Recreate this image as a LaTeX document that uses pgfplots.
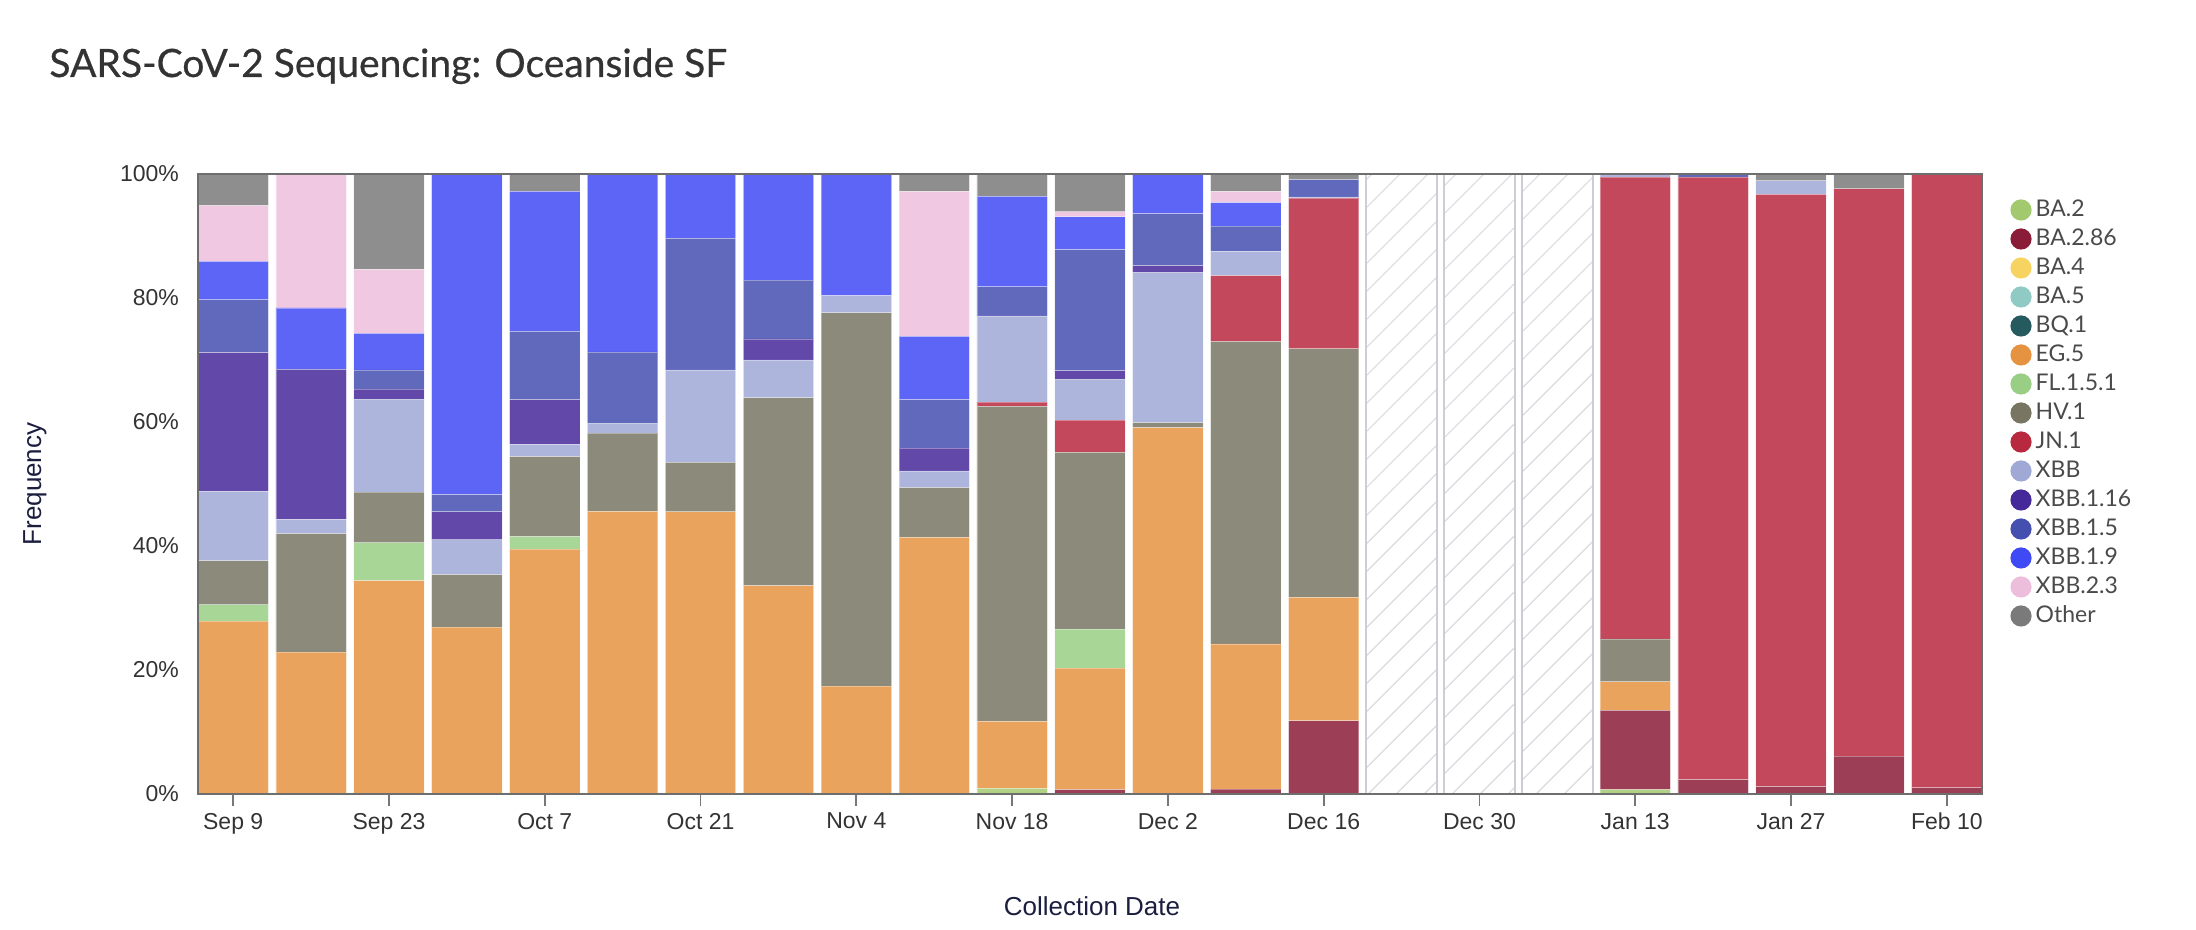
\documentclass[border=0pt]{standalone}
\usepackage{fontspec}
\setmainfont{Liberation Sans}
\newfontfamily\latofont{Lato}
\newfontfamily\titlefont{Lato}[FakeBold=0.6]
\usepackage{pgfplots}
\pgfplotsset{compat=1.18}
\usepackage{pgfplotstable}
\usetikzlibrary{patterns.meta}

\definecolor{cBA2}{HTML}{A3C96E}
\definecolor{cBA286}{HTML}{8B1C38}
\definecolor{cBA4}{HTML}{F7D462}
\definecolor{cBA5}{HTML}{8FCBC4}
\definecolor{cBQ1}{HTML}{255A5E}
\definecolor{cEG5}{HTML}{E59340}
\definecolor{cFL}{HTML}{98CF84}
\definecolor{cHV1}{HTML}{787563}
\definecolor{cJN1}{HTML}{B8283E}
\definecolor{cXBB}{HTML}{A0A8D6}
\definecolor{cX116}{HTML}{45289A}
\definecolor{cX15}{HTML}{454FB0}
\definecolor{cX19}{HTML}{3F4AF5}
\definecolor{cX23}{HTML}{EDBEDC}
\definecolor{cOther}{HTML}{7A7A7A}
\definecolor{cFrame}{HTML}{6E6E6E}
\definecolor{cTick}{HTML}{777777}
\definecolor{cText}{HTML}{333333}
\definecolor{cLeg}{HTML}{4A4A4A}
\definecolor{cNavy}{HTML}{1B1E3F}
\definecolor{cHatch}{HTML}{D6D6DC}
\definecolor{cHatchBorder}{HTML}{CDCDD5}

\pgfplotstableread{
idx BA2 BA286 EG5 FL HV1 JN1 XBB X116 X15 X19 X23 Other ND
0  0   0    27.9 2.6 7.1  0    11.2 22.4 8.5  6.2  9.0  5.1  0
1  0   0    22.9 0   19.1 0    2.3  24.2 0    9.9  21.6 0    0
2  0   0    34.4 6.1 8.2  0    15.0 1.6  3.1  5.9  10.3 15.4 0
3  0   0    26.9 0   8.5  0    5.6  4.5  2.8  51.7 0    0    0
4  0   0    39.5 2.0 12.9 0    2.0  7.2  11.0 22.6 0    2.8  0
5  0   0    45.6 0   12.6 0    1.6  0    11.5 28.7 0    0    0
6  0   0    45.5 0   8.0  0    14.9 0    21.2 10.4 0    0    0
7  0   0    33.6 0   30.3 0    6.1  3.4  9.5  17.1 0    0    0
8  0   0    17.4 0   60.2 0    2.8  0    0    19.6 0    0    0
9  0   0    41.4 0   8.0  0    2.7  3.7  7.8  10.2 23.4 2.8  0
10 0.9 0    10.8 0   50.8 0.7  13.9 0    4.7  14.6 0    3.6  0
11 0   0.7  19.6 6.3 28.5 5.2  6.6  1.4  19.5 5.3  0.8  6.1  0
12 0   0    59.1 0   0.8  0    24.2 1.1  8.4  6.4  0    0    0
13 0   0.8  23.4 0   48.8 10.6 3.9  0    4.1  3.8  1.8  2.8  0
14 0   11.8 19.9 0   40.1 24.3 0.2  0    2.8  0    0    0.9  0
15 0   0    0    0   0    0    0    0    0    0    0    0    100
16 0   0    0    0   0    0    0    0    0    0    0    0    100
17 0   0    0    0   0    0    0    0    0    0    0    0    100
18 0.7 12.8 4.6  0   6.9  74.5 0.5  0    0    0    0    0    0
19 0   2.3  0    0   0    97.2 0    0    0.5  0    0    0    0
20 0   1.2  0    0   0    95.5 2.2  0    0    0    0    1.1  0
21 0   6.1  0    0   0    91.5 0    0    0    0    0    2.4  0
22 0   1.0  0    0   0    99.0 0    0    0    0    0    0    0
}\data

\pgfplotsset{vbar/.style={fill=#1, fill opacity=0.85, draw=white, draw opacity=0.35, line width=0.4pt}}

\begin{document}
\begin{tikzpicture}
\path[use as bounding box] (0,0) rectangle (1098pt,465pt);
\node[anchor=base west, inner sep=0pt, text=cText, font=\titlefont\fontsize{19.5}{22}\selectfont] at (24.5pt,426.5pt) {SARS-CoV-2 Sequencing: Oceanside SF};
\node[rotate=90, inner sep=0pt, text=cNavy, font=\fontsize{13}{15}\selectfont] at (17.5pt,223pt) {Frequency};
\node[inner sep=0pt, text=cNavy, font=\fontsize{13}{15}\selectfont] at (546pt,12pt) {Collection Date};
\begin{axis}[
  at={(99pt,68pt)}, anchor=south west,
  scale only axis, width=892pt, height=310pt,
  ybar stacked, bar width=0.903,
  xmin=-0.452, xmax=22.452, ymin=0, ymax=100,
  xtick={0,2,...,22},
  xticklabels={Sep 9,Sep 23,Oct 7,Oct 21,Nov 4,Nov 18,Dec 2,Dec 16,Dec 30,Jan 13,Jan 27,Feb 10},
  ytick={0,20,40,60,80,100},
  yticklabels={0\%,20\%,40\%,60\%,80\%,100\%},
  tick align=outside, xtick pos=bottom, ytick pos=left,
  major tick length=6pt,
  ytick style={draw=none},
  xtick style={draw=cTick, line width=0.9pt},
  axis line style={draw=cFrame, line width=1pt},
  axis on top,
  tick label style={font=\fontsize{11.5}{13}\selectfont, text=cText},
  legend cell align=left,
  legend style={at={(rel axis cs:1,1)}, anchor=north west, xshift=14.2pt, yshift=-10.75pt,
    draw=none, fill=none, inner sep=0pt, outer sep=0pt,
    font=\latofont\fontsize{11.5}{12}\selectfont, text=cLeg,
    nodes={text height=8.4pt, text depth=2pt, inner sep=2.05pt},
    row sep=0pt},
  legend image code/.code={\fill[#1, fill opacity=1, draw=none] (5.3pt,0pt) circle (5.3pt);},
]
\addplot[vbar=cBA2] table[x=idx,y=BA2]{\data}; \addlegendentry{BA.2}
\addplot[vbar=cBA286] table[x=idx,y=BA286]{\data}; \addlegendentry{BA.2.86}
\addlegendimage{fill=cBA4, draw=none} \addlegendentry{BA.4}
\addlegendimage{fill=cBA5, draw=none} \addlegendentry{BA.5}
\addlegendimage{fill=cBQ1, draw=none} \addlegendentry{BQ.1}
\addplot[vbar=cEG5] table[x=idx,y=EG5]{\data}; \addlegendentry{EG.5}
\addplot[vbar=cFL] table[x=idx,y=FL]{\data}; \addlegendentry{FL.1.5.1}
\addplot[vbar=cHV1] table[x=idx,y=HV1]{\data}; \addlegendentry{HV.1}
\addplot[vbar=cJN1] table[x=idx,y=JN1]{\data}; \addlegendentry{JN.1}
\addplot[vbar=cXBB] table[x=idx,y=XBB]{\data}; \addlegendentry{XBB}
\addplot[vbar=cX116] table[x=idx,y=X116]{\data}; \addlegendentry{XBB.1.16}
\addplot[vbar=cX15] table[x=idx,y=X15]{\data}; \addlegendentry{XBB.1.5}
\addplot[vbar=cX19] table[x=idx,y=X19]{\data}; \addlegendentry{XBB.1.9}
\addplot[vbar=cX23] table[x=idx,y=X23]{\data}; \addlegendentry{XBB.2.3}
\addplot[vbar=cOther] table[x=idx,y=Other]{\data}; \addlegendentry{Other}
\addplot[fill=white, draw=cHatchBorder, line width=1pt,
  postaction={pattern={Lines[angle=45,distance=9.9pt,line width=0.5pt]}, pattern color=cHatch},
  forget plot] table[x=idx,y=ND]{\data};
\end{axis}
\end{tikzpicture}
\end{document}
